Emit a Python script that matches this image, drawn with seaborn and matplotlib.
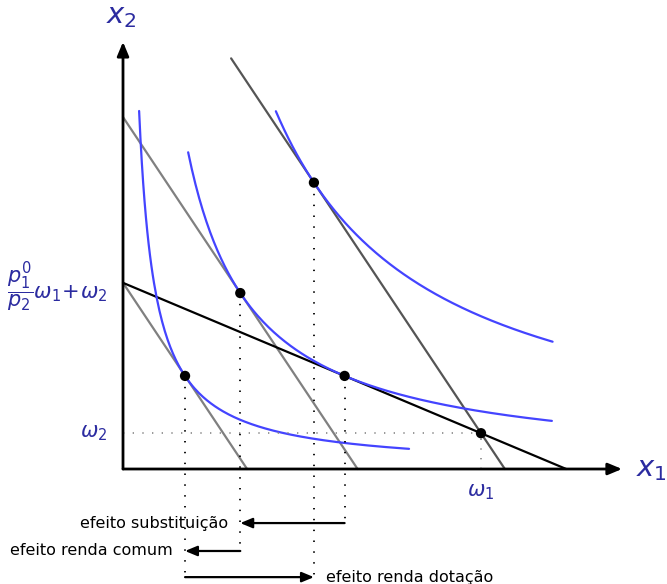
import numpy as np
import pandas as pd
import matplotlib
matplotlib.use("Agg")
import matplotlib.pyplot as plt
import seaborn as sns

# prices and endowment
p1_old = 1.5
p1_new = 0.42
w1, w2 = 10.0, 1.0

# indifference curves x1*x2 = u, with the x1 range drawn
u_levels = [4.5, 16.1, 42.67]
u_x_from = [0.45, 1.82, 4.27]
u_x_to = [7.99, 11.98, 12.0]

# budget lines p*x1 + x2 = m
bl_price = [1.5, 1.5, 1.5, 0.42]
bl_income = [16.0, 9.83, 5.2, 5.2]
bl_x_from = [3.02, 0.0, 0.0, 0.0]
bl_color = ["#555555", "#808080", "#808080", "black"]

# chosen bundles + endowment
pt_x1 = [1.733, 3.276, 5.333, 6.19, 10.0]
pt_x2 = [2.6, 4.914, 8.0, 2.6, 1.0]

# effects: label, from x1, to x1, level below axis
eff_labels = ["efeito substituição", "efeito renda comum", "efeito renda dotação"]
eff_from = [6.19, 3.276, 1.733]
eff_to = [3.276, 1.733, 5.333]
eff_y = [-1.51, -2.29, -3.02]

label_col = "#2b2ba0"
blue = "#4444ff"

sns.set_style("white")
plt.rcParams["font.family"] = ["DejaVu Sans"]

fig = plt.figure(figsize=(6.67, 5.84), dpi=100)
ax = fig.add_axes([0, 0, 1, 1])
ax.set_xlim(-3.436, 15.196)
ax.set_ylim(-3.212, 13.10)
ax.set_axis_off()

# budget lines
for p, m, x0, c in zip(bl_price, bl_income, bl_x_from, bl_color):
    xs = np.array([x0, m / p])
    d = pd.DataFrame({"x1": xs, "x2": m - p * xs})
    sns.lineplot(data=d, x="x1", y="x2", color=c, lw=1.6, ax=ax)

# indifference curves
for u, a, b in zip(u_levels, u_x_from, u_x_to):
    xs = np.linspace(a, b, 200)
    d = pd.DataFrame({"x1": xs, "x2": u / xs})
    sns.lineplot(data=d, x="x1", y="x2", color=blue, lw=1.6, ax=ax)

# endowment guides
ax.plot([0, w1], [w2, w2], color="#888888", lw=1.2, ls=(0, (0.8, 5)))
ax.plot([w1, w1], [0, w2], color="#888888", lw=1.2, ls=(0, (0.8, 5)))

# dotted drops from the bundles
drop_to = {1.733: -3.02, 3.276: -2.29, 5.333: -3.02, 6.19: -1.51}
for x, y in zip(pt_x1[:4], pt_x2[:4]):
    ax.plot([x, x], [y, drop_to[x]], color="black", lw=1.3, ls=(0, (0.8, 5.2)))

# axes with arrows
ax.annotate("", xy=(13.94, 0), xytext=(0, 0),
            arrowprops=dict(arrowstyle="-|>,head_length=0.6,head_width=0.25", color="black",
                            lw=2, mutation_scale=14, shrinkA=0, shrinkB=0))
ax.annotate("", xy=(0, 11.93), xytext=(0, 0),
            arrowprops=dict(arrowstyle="-|>,head_length=0.6,head_width=0.25", color="black",
                            lw=2, mutation_scale=14, shrinkA=0, shrinkB=0))

sns.scatterplot(x=pt_x1, y=pt_x2, color="black", s=55, edgecolor="none", zorder=5, ax=ax)

# effect arrows
for lab, a, b, y in zip(eff_labels, eff_from, eff_to, eff_y):
    ax.annotate("", xy=(b, y), xytext=(a, y),
                arrowprops=dict(arrowstyle="-|>,head_length=0.6,head_width=0.25", color="black",
                                lw=1.6, mutation_scale=12, shrinkA=0, shrinkB=0))
    if b < a:
        ax.text(b - 0.33, y, lab, ha="right", va="center", fontsize=11.5, color="black")
    else:
        ax.text(b + 0.33, y, lab, ha="left", va="center", fontsize=11.5, color="black")

# labels
ax.text(14.75, 0.0, r"$x_1$", color=label_col, fontsize=21, ha="center", va="center")
ax.text(-0.03, 12.65, r"$x_2$", color=label_col, fontsize=21, ha="center", va="center")
ax.text(-0.45, w2, r"$\omega_2$", color=label_col, fontsize=15, ha="right", va="center")
ax.text(w1, -0.64, r"$\omega_1$", color=label_col, fontsize=15, ha="center", va="center")
ax.text(-0.45, 5.08, r"$\dfrac{p_1^0}{p_2}\omega_1\!+\!\omega_2$", color=label_col, fontsize=15,
        ha="right", va="center")

fig.savefig("out.png", dpi=100)
